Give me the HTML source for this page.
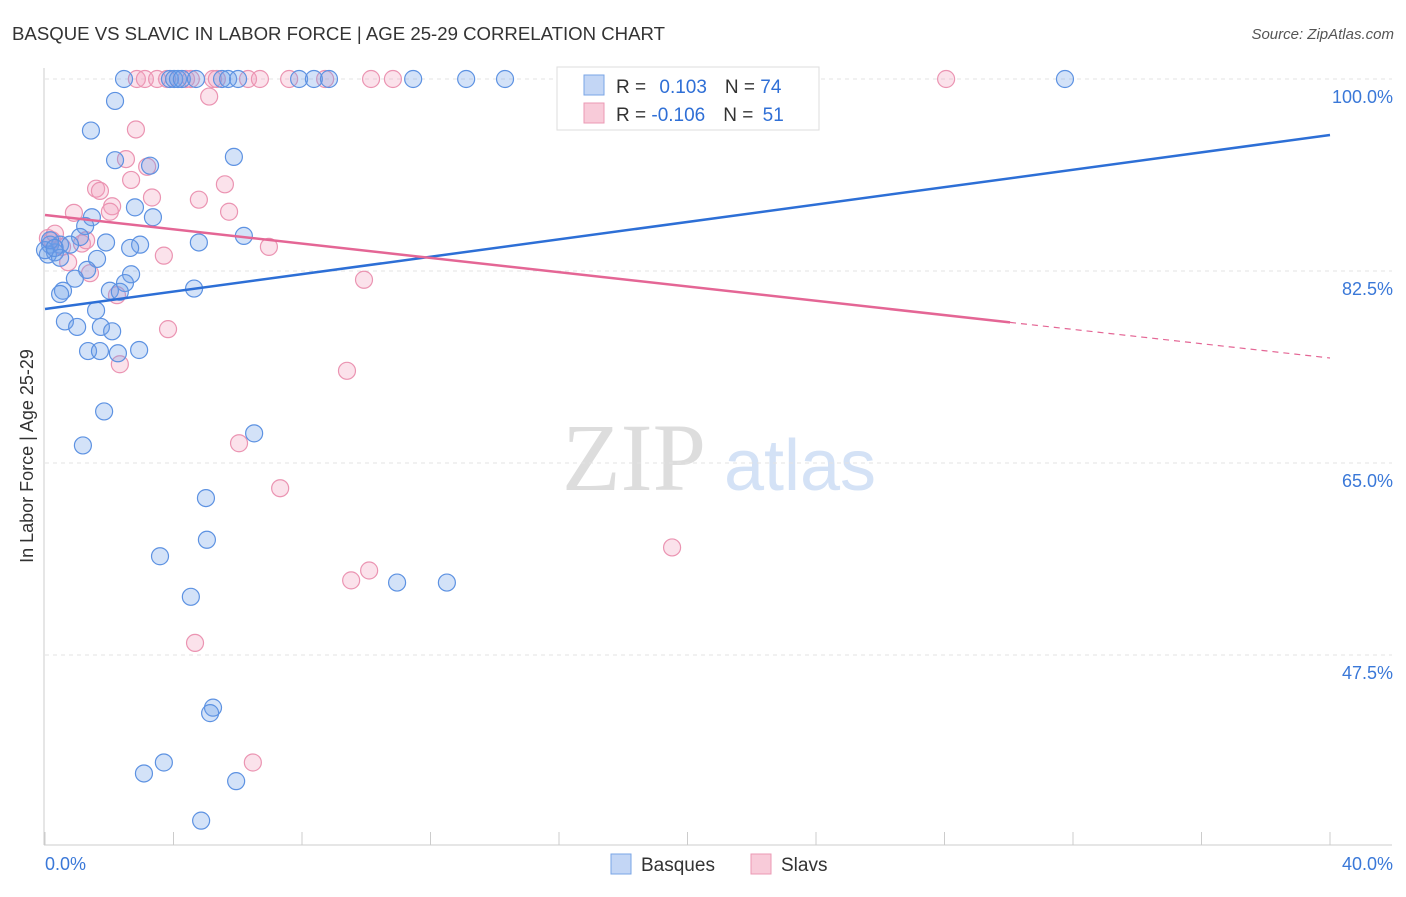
<!DOCTYPE html>
<html><head><meta charset="utf-8"><style>
body{margin:0;background:#fff;font-family:"Liberation Sans",sans-serif}
</style></head><body>
<svg width="1406" height="892" viewBox="0 0 1406 892" xmlns="http://www.w3.org/2000/svg">
<text x="12" y="40" font-size="18" fill="#333" textLength="653" lengthAdjust="spacingAndGlyphs">BASQUE VS SLAVIC IN LABOR FORCE | AGE 25-29 CORRELATION CHART</text>
<text x="1394" y="39" font-size="15" fill="#555" text-anchor="end" font-style="italic">Source: ZipAtlas.com</text>
<g><text x="634" y="490" font-size="96" fill="#ddd" font-family="Liberation Serif" text-anchor="middle">ZIP</text><text x="800" y="490" font-size="72" fill="#d4e2f6" text-anchor="middle">atlas</text></g>
<g id="grid"></g>
<line x1="44" y1="68" x2="44" y2="845" stroke="#ccc"/>
<line x1="44" y1="845" x2="1392" y2="845" stroke="#ccc"/>
<g id="ticks"></g>
<text x="33" y="456" font-size="18" fill="#333" text-anchor="middle" transform="rotate(-90 33 456)">In Labor Force | Age 25-29</text>
<g id="pts"></g>
<g id="trend"></g>
<g>
<rect x="557" y="67" width="262" height="63" fill="#fff" stroke="#ddd"/>
<rect x="584" y="75" width="20" height="20" fill="#c3d6f5" stroke="#7aa5e6"/>
<rect x="584" y="103" width="20" height="20" fill="#f8cbd9" stroke="#eb9ab4"/>
<text x="616" y="93" font-size="19" fill="#333">R = <tspan fill="#2f6fd6" dx="8">0.103</tspan><tspan dx="18">N = </tspan><tspan fill="#2f6fd6">74</tspan></text>
<text x="616" y="121" font-size="19" fill="#333">R = <tspan fill="#2f6fd6">-0.106</tspan><tspan dx="18">N = </tspan><tspan fill="#2f6fd6" dx="4">51</tspan></text>
</g>
<g>
<rect x="611" y="854" width="20" height="20" fill="#c3d6f5" stroke="#7aa5e6"/>
<text x="641" y="871" font-size="19" fill="#333">Basques</text>
<rect x="751" y="854" width="20" height="20" fill="#f8cbd9" stroke="#eb9ab4"/>
<text x="781" y="871" font-size="19" fill="#333">Slavs</text>
</g>
</svg>
<script>
const yTicks=[100,82.5,65,47.5];
const yTickLabels=["100.0%","82.5%","65.0%","47.5%"];
const xTickLabels=["0.0%","40.0%"];
const basqueX=[2.46,3.89,4.02,4.14,4.26,4.70,5.51,5.70,6.01,7.91,8.37,8.84,11.46,13.11,14.32,31.75,2.18,1.43,2.18,3.27,5.88,2.80,3.36,1.46,1.25,1.09,1.90,2.96,2.65,4.79,6.19,0.16,0.47,0.78,0.31,0.09,0.47,1.62,1.31,2.68,0.93,2.49,2.02,2.33,4.64,0.56,0.47,1.59,0.62,1.00,1.74,2.09,1.34,1.71,2.27,2.93,1.84,1.18,6.51,5.01,5.04,3.58,4.54,10.96,12.51,5.23,5.14,3.70,3.08,5.95,4.86,0,0.16,0.3];
const basqueY=[100,100,100,100,100,100,100,100,100,100,100,100,100,100,100,100,98.0,95.3,92.6,92.1,92.9,88.3,87.4,87.4,86.6,85.6,85.1,84.9,84.6,85.1,85.7,84.9,84.9,84.9,84.2,84.0,83.7,83.6,82.6,82.2,81.8,81.4,80.7,80.6,80.9,80.7,80.4,78.9,77.9,77.4,77.4,77.0,75.2,75.2,75.0,75.3,69.7,66.6,67.7,61.8,58.0,56.5,52.8,54.1,54.1,42.7,42.2,37.7,36.7,36.0,32.4,84.4,85.3,84.6];
const slavX=[2.86,3.11,3.49,3.80,4.39,4.54,5.23,5.35,6.32,6.69,7.60,8.72,10.15,10.83,28.05,5.11,2.83,2.52,3.18,1.59,1.71,2.68,2.09,2.02,3.33,4.79,5.60,5.73,0.90,0.09,0.22,0.53,1.15,0.72,1.40,3.70,6.97,2.24,9.93,3.83,2.33,9.40,6.04,7.32,19.52,10.09,9.53,4.67,6.47,0.31,1.28];
const slavY=[100,100,100,100,100,100,100,100,100,100,100,100,100,100,100,98.4,95.4,92.7,92.0,90.0,89.8,90.8,88.4,87.9,89.2,89.0,90.4,87.9,87.8,85.5,85.3,84.7,85.0,83.3,82.3,83.9,84.7,80.3,81.7,77.2,74.0,73.4,66.8,62.7,57.3,55.2,54.3,48.6,37.7,85.9,85.3];
const basqueTrend=[79.04,94.9];
const slavTrend=[87.6,74.57];
const slavSolidEnd=30.04;
const NS="http://www.w3.org/2000/svg";
const sx=v=>45+v*32.125, sy=v=>79+(100-v)*10.971;
function mk(t,a,p){const e=document.createElementNS(NS,t);for(const k in a)e.setAttribute(k,a[k]);document.getElementById(p).appendChild(e);return e;}
yTicks.forEach((t,i)=>{
 const l=mk('line',{x1:45,x2:1392,y1:sy(t),y2:sy(t),stroke:'#e3e3e3','stroke-dasharray':'4,4'},'grid');
 
 
 const tx=mk('text',{x:1393,y:sy(t)+24,'font-size':18,fill:'#3a78d8','text-anchor':'end'},'grid');
 
 
 tx.textContent=yTickLabels[i];
});
for(let i=0;i<=10;i++){
 const l=mk('line',{x1:sx(i*4),x2:sx(i*4),y1:832,y2:845,stroke:'#ccc'},'ticks');
 
 
}
[[0,'start',45],[40,'end',1393]].forEach((d,i)=>{
 const tx=mk('text',{x:d[2],y:870,'font-size':18,fill:'#3a78d8','text-anchor':d[1]},'ticks');
 
 
 tx.textContent=xTickLabels[i];
});
function pts(X,Y,fill,stroke,name){X.forEach((x,i)=>{
 const c=mk('circle',{cx:sx(x),cy:sy(Y[i]),r:8.5,fill:fill,stroke:stroke,'stroke-width':1.2},'pts');
 
 
});}
pts(slavX,slavY,'rgba(242,160,188,0.3)','#eb94b2','slav-point');
pts(basqueX,basqueY,'rgba(110,160,232,0.3)','#5d92e2','basque-point');
const bl=mk('line',{x1:sx(0),y1:sy(basqueTrend[0]),x2:sx(40),y2:sy(basqueTrend[1]),stroke:'#2d6fd6','stroke-width':2.5},'trend');


const pe=slavTrend[0]+(slavTrend[1]-slavTrend[0])*slavSolidEnd/40;
const pl=mk('line',{x1:sx(0),y1:sy(slavTrend[0]),x2:sx(slavSolidEnd),y2:sy(pe),stroke:'#e46695','stroke-width':2.5},'trend');


const pd=mk('line',{x1:sx(slavSolidEnd),y1:sy(pe),x2:sx(40),y2:sy(slavTrend[1]),stroke:'#e46695','stroke-width':1.2,'stroke-dasharray':'6,5'},'trend');


</script>
</body></html>
